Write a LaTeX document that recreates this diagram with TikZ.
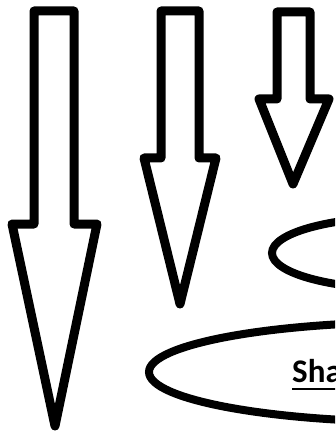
\documentclass[tikz,border=0pt]{standalone}
\usepackage{fontspec}
\setmainfont{Carlito}
\usetikzlibrary{calc}
\tikzset{
  hollowarrow/.style={draw=black,fill=white,line width=9pt,line join=round},
  ring/.style={draw=black,line width=8pt}
}

\begin{document}
\begin{tikzpicture}[x=1pt,y=-1pt]
  \useasboundingbox (0,0) rectangle (335,435);
  \clip (0,0) rectangle (335,435);
  % three hollow arrows, tallest first
  \draw[hollowarrow] (34,11)--(74,11)--(74,224)--(97,224)--(55,426)--(12,224)--(34,224)--cycle;
  \draw[hollowarrow] (161,11)--(199,11)--(199,158)--(216,158)--(180,304)--(144,158)--(161,158)--cycle;
  \draw[hollowarrow] (277,12)--(310,12)--(310,99)--(329,99)--(293,184)--(259,99)--(277,99)--cycle;
  % ellipses, running off the right edge
  \draw[ring] (402,253) ellipse [x radius=130,y radius=36];
  \draw[ring] (419,372) ellipse [x radius=270,y radius=50];
  \node[anchor=base west,inner sep=0pt,font=\fontsize{33}{36}\selectfont\bfseries] (lbl) at (292,382) {Sha};
  \draw[line width=2.5pt] ($(lbl.base west)+(0,7)$)--($(lbl.base east)+(0,7)$);
\end{tikzpicture}
\end{document}
